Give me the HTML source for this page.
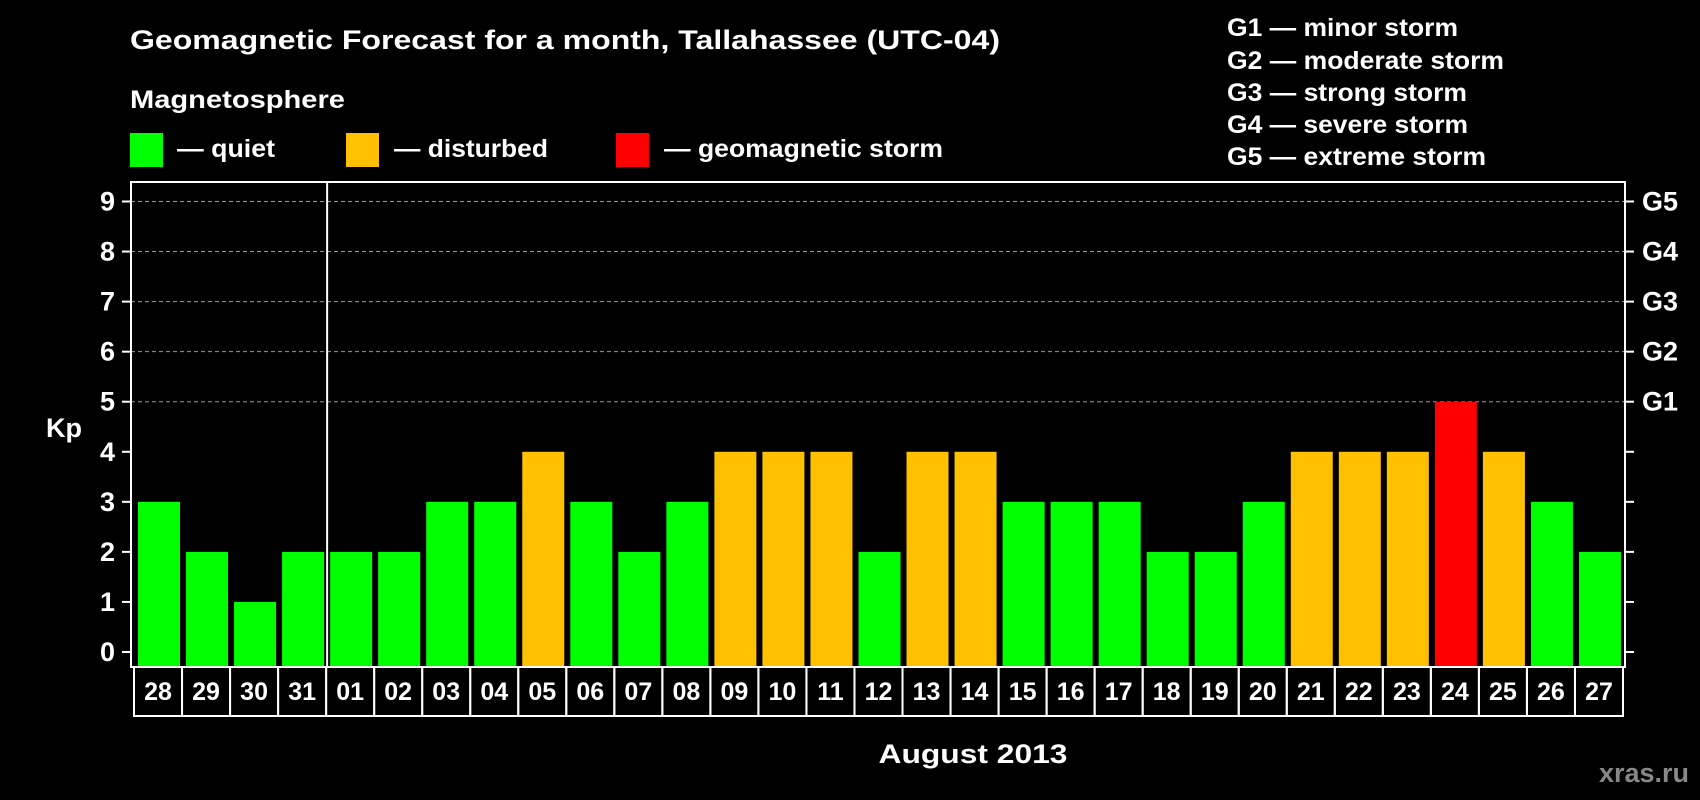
<!DOCTYPE html>
<html><head><meta charset="utf-8"><style>
html,body{margin:0;padding:0;background:#000;width:1700px;height:800px;overflow:hidden}
svg{display:block}
text{font-family:"Liberation Sans",Arial,sans-serif;font-weight:bold;fill:#fff}
</style></head><body>
<svg id="chart" width="1700" height="800" viewBox="0 0 1700 800">
<text x="130" y="40" font-size="27" dominant-baseline="central" textLength="870" lengthAdjust="spacingAndGlyphs">Geomagnetic Forecast for a month, Tallahassee (UTC-04)</text>
<text x="130" y="100" font-size="25" dominant-baseline="central" textLength="215" lengthAdjust="spacingAndGlyphs">Magnetosphere</text>
<g>
<rect x="130" y="133" width="33" height="34" fill="#00ff00"/>
<text x="177" y="149" font-size="25" dominant-baseline="central" textLength="98" lengthAdjust="spacingAndGlyphs">— quiet</text></g>
<g>
<rect x="346" y="133" width="33" height="34" fill="#ffc000"/>
<text x="394" y="149" font-size="25" dominant-baseline="central" textLength="154" lengthAdjust="spacingAndGlyphs">— disturbed</text></g>
<g>
<rect x="616" y="133" width="33" height="34" fill="#ff0000"/>
<text x="664" y="149" font-size="25" dominant-baseline="central" textLength="279" lengthAdjust="spacingAndGlyphs">— geomagnetic storm</text></g>
<g font-size="25">
<text x="1227" y="28" dominant-baseline="central" textLength="231" lengthAdjust="spacingAndGlyphs">G1 — minor storm</text>
<text x="1227" y="61" dominant-baseline="central" textLength="277" lengthAdjust="spacingAndGlyphs">G2 — moderate storm</text>
<text x="1227" y="93" dominant-baseline="central" textLength="240" lengthAdjust="spacingAndGlyphs">G3 — strong storm</text>
<text x="1227" y="125" dominant-baseline="central" textLength="241" lengthAdjust="spacingAndGlyphs">G4 — severe storm</text>
<text x="1227" y="157" dominant-baseline="central" textLength="259" lengthAdjust="spacingAndGlyphs">G5 — extreme storm</text>
</g>
<g id="plot"></g>
<text x="64" y="428" font-size="27" text-anchor="middle" dominant-baseline="central">Kp</text>
<text x="973" y="754" font-size="27" text-anchor="middle" dominant-baseline="central" textLength="189" lengthAdjust="spacingAndGlyphs">August 2013</text>
<text x="1689" y="773" font-size="27" text-anchor="end" dominant-baseline="central" style="fill:#888">xras.ru</text>
</svg>
<script>
const days = ["28","29","30","31","01","02","03","04","05","06","07","08","09","10","11","12","13","14","15","16","17","18","19","20","21","22","23","24","25","26","27"];
const kpValues = [3,2,1,2,2,2,3,3,4,3,2,3,4,4,4,2,4,4,3,3,3,2,2,3,4,4,4,5,4,3,2];
const yTicks = [0,1,2,3,4,5,6,7,8,9];
const gLabels = ["G1","G2","G3","G4","G5"];
const gLevels = [5,6,7,8,9];

const NS = "http://www.w3.org/2000/svg";
const plot = document.getElementById("plot");
const L = 131, R = 1625, T = 182, B = 667;
const y0 = 652, unit = (652 - 201.5) / 9;
const yScale = v => y0 - v * unit;
const cellL = 134, cellW = (1623 - 134) / days.length;
const xCell = i => cellL + i * cellW;
function mk(tag, attrs) { const e = document.createElementNS(NS, tag); for (const k in attrs) e.setAttribute(k, attrs[k]); plot.appendChild(e); return e; }

gLevels.forEach((v, i) => {
  const g = mk("line", {x1: L, x2: R, y1: yScale(v), y2: yScale(v), stroke: "#999", "stroke-width": 1, "stroke-dasharray": "4,3"});
  
  
  const t = mk("text", {x: 1642, y: yScale(v), "font-size": 27, "dominant-baseline": "central"});
  t.textContent = gLabels[i];
  
  
});
yTicks.forEach(v => {
  const a = mk("line", {x1: 122, x2: L, y1: yScale(v), y2: yScale(v), stroke: "#fff", "stroke-width": 2});
  
  
  const b = mk("line", {x1: R, x2: 1634, y1: yScale(v), y2: yScale(v), stroke: "#fff", "stroke-width": 2});
  
  
  const t = mk("text", {x: 115, y: yScale(v), "font-size": 27, "text-anchor": "end", "dominant-baseline": "central"});
  t.textContent = v;
  
  
});
kpValues.forEach((v, i) => {
  const col = v >= 5 ? "#ff0000" : (v >= 4 ? "#ffc000" : "#00ff00");
  const r = mk("rect", {x: xCell(i) + 4, y: yScale(v), width: 42, height: B - yScale(v), fill: col});
  
  
  const c = mk("rect", {x: xCell(i), y: B, width: cellW, height: 49, fill: "none", stroke: "#fff", "stroke-width": 2});
  
  
  const t = mk("text", {x: xCell(i) + cellW / 2, y: 692, "font-size": 25, "text-anchor": "middle", "dominant-baseline": "central"});
  t.textContent = days[i];
  
  
});
const frame = mk("rect", {x: L, y: T, width: R - L, height: B - T, fill: "none", stroke: "#fff", "stroke-width": 2});


const mi = days.indexOf("01");
const ml = mk("line", {x1: xCell(mi) + 1, x2: xCell(mi) + 1, y1: T, y2: B, stroke: "#fff", "stroke-width": 2});


</script>
</body></html>
